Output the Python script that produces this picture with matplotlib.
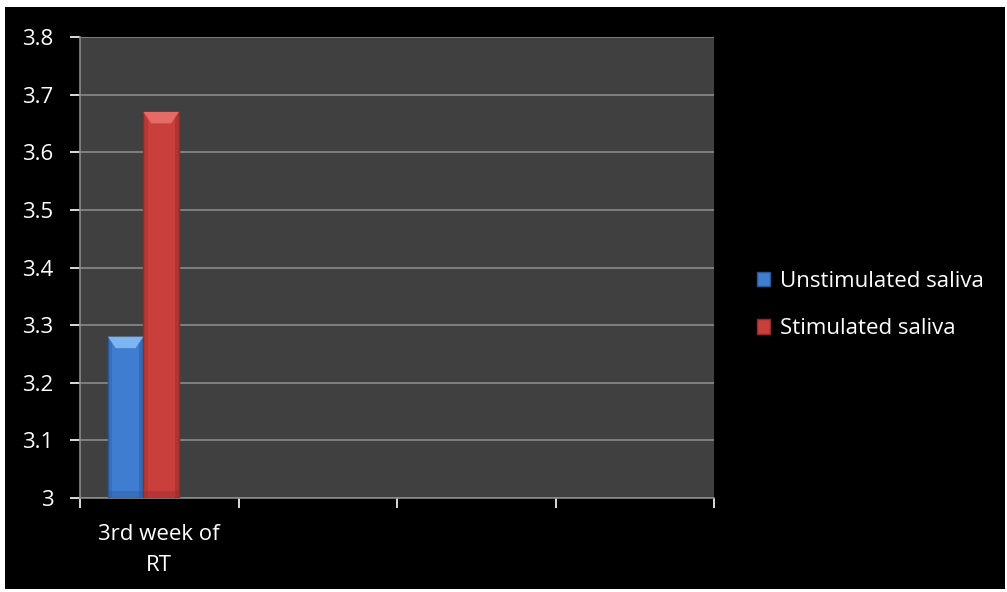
import matplotlib
matplotlib.use("Agg")
import matplotlib.pyplot as plt
from matplotlib.patches import Polygon, Rectangle
import numpy as np

# Data
categories = ["3rd week of\nRT", "", "", ""]
series_names = ["Unstimulated saliva", "Stimulated saliva"]
unstimulated = [3.28]
stimulated = [3.67]
y_ticks = [3.0, 3.1, 3.2, 3.3, 3.4, 3.5, 3.6, 3.7, 3.8]
y_tick_labels = ["3", "3.1", "3.2", "3.3", "3.4", "3.5", "3.6", "3.7", "3.8"]

colors = ["#3f7dd0", "#c93f3c"]
light = ["#7db5f2", "#e66a66"]
dark = ["#2a5596", "#8f2a28"]

plt.rcParams["font.family"] = ["Open Sans", "DejaVu Sans"]

fig = plt.figure(figsize=(10.07, 5.92), dpi=100)
fig.patch.set_facecolor("white")
# black chart area inside a thin white frame
fig.add_artist(Rectangle((5 / 1007, 3 / 592), 1000 / 1007, 582 / 592,
                         transform=fig.transFigure, facecolor="black",
                         edgecolor="none", zorder=0))

ax = fig.add_axes([80 / 1007, 1 - 498 / 592, 634 / 1007, 461 / 592])
ax.set_facecolor("#404040")
ax.set_xlim(0, len(categories))
ax.set_ylim(y_ticks[0], y_ticks[-1])

grid_c = "#8a8a8a"
ax.set_yticks(y_ticks)
ax.set_yticklabels(y_tick_labels)
ax.yaxis.grid(True, color=grid_c, linewidth=1.2)
ax.set_axisbelow(True)

# category ticks at slot boundaries, labels centered in each slot
ax.set_xticks(np.arange(len(categories) + 1))
ax.set_xticklabels([])
ax.set_xticks(np.arange(len(categories)) + 0.5, minor=True)
ax.set_xticklabels(categories, minor=True)
ax.tick_params(axis="x", which="minor", length=0, pad=19)
ax.tick_params(axis="x", which="major", length=7, color=grid_c, width=1.2)
ax.tick_params(axis="y", length=7, color=grid_c, width=1.2, pad=12)
ax.tick_params(colors="white", labelsize=16, which="both")
for lbl in ax.get_xticklabels(minor=True):
    lbl.set_linespacing(1.6)

for s in ["top", "right"]:
    ax.spines[s].set_visible(False)
for s in ["left", "bottom"]:
    ax.spines[s].set_color(grid_c)
    ax.spines[s].set_linewidth(1.2)

width = 0.224
x = np.arange(len(unstimulated))
offsets = [0.288, 0.512]
all_bars = []
for i, vals in enumerate([unstimulated, stimulated]):
    bars = ax.bar(x + offsets[i], np.array(vals) - y_ticks[0], width,
                  bottom=y_ticks[0], color=colors[i], edgecolor=dark[i],
                  linewidth=1.0, label=series_names[i], zorder=3)
    all_bars.append((bars, i))

# bevelled top and shaded sides on each bar
bevel_h = 0.02
for bars, i in all_bars:
    for b in bars:
        x0 = b.get_x()
        w = b.get_width()
        top = b.get_y() + b.get_height()
        bot = b.get_y()
        inset = w * 0.22
        ax.add_patch(Rectangle((x0, bot), w * 0.12, top - bot,
                               facecolor=dark[i], edgecolor="none",
                               alpha=0.3, zorder=4))
        ax.add_patch(Rectangle((x0 + w * 0.88, bot), w * 0.12, top - bot,
                               facecolor=dark[i], edgecolor="none",
                               alpha=0.45, zorder=4))
        ax.add_patch(Rectangle((x0, bot), w, 0.012,
                               facecolor=dark[i], edgecolor="none",
                               alpha=0.35, zorder=4))
        ax.add_patch(Polygon([(x0, top), (x0 + w, top),
                              (x0 + w - inset, top - bevel_h),
                              (x0 + inset, top - bevel_h)],
                             closed=True, facecolor=light[i],
                             edgecolor="none", zorder=5))

leg = fig.legend(loc="center left", bbox_to_anchor=(737 / 1007, 1 - 305 / 592),
                 frameon=False, fontsize=16, labelcolor="white",
                 handlelength=0.6, handleheight=0.6, handletextpad=0.45,
                 labelspacing=1.2)

fig.savefig("out.png", dpi=100, facecolor=fig.get_facecolor())
